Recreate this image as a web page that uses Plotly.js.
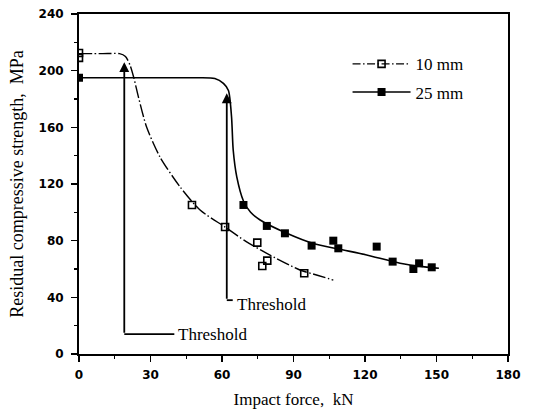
<!DOCTYPE html>
<html>
<head>
<meta charset="utf-8">
<script src="https://cdn.plot.ly/plotly-3.0.1.min.js"></script>
<style>html,body{margin:0;padding:0;background:#fff}#chart{width:535px;height:412px}</style>
</head>
<body>
<div id="chart"></div>
<script>
// Measured points: 10 mm specimens (open squares)
const force10 = [0, 0, 47.4, 61.3, 74.8, 76.9, 79.0, 94.5];
const strength10 = [212.5, 209, 105.2, 89.6, 78.6, 62.1, 65.9, 57];
// Measured points: 25 mm specimens (filled squares)
const force25 = [0, 69, 78.8, 86.4, 97.6, 106.7, 108.8, 124.9, 131.6, 140.3, 142.7, 148];
const strength25 = [195, 105.2, 90.4, 85.2, 76.5, 80, 74.6, 75.8, 65.2, 60, 64, 61.2];
// Fitted curves
const curveForce10 = [0, 10, 17, 19.5, 21.4, 23, 25, 28.4, 34, 42.4, 50.8, 61.3, 70, 78.8, 92.7, 100, 106.7];
const curveStrength10 = [212, 212, 212, 210, 204, 195, 181, 160, 139, 118, 101.6, 89.6, 79.5, 71, 59.3, 55.6, 52.2];
const curveForce25 = [0, 30, 50, 57, 60.6, 62.7, 64, 64.7, 66.2, 69, 72, 76, 87.2, 98.3, 109.5, 120.7, 134.7, 145, 151];
const curveStrength25 = [195, 195, 195, 194.5, 191, 186, 167.5, 144, 125, 108, 100, 94.6, 85.2, 78, 73.9, 69.9, 64, 61.5, 60.5];
// Threshold arrows
const thresholdLabels = ["Threshold", "Threshold"];
const thresholdForce = [19, 62];
const thresholdTop = [206, 184];
const thresholdBase = [14, 38];
const seriesNames = ["10 mm", "25 mm"];
const xTicks = [0, 30, 60, 90, 120, 150, 180];
const yTicks = [0, 40, 80, 120, 160, 200, 240];

const serif = "Liberation Serif, Times New Roman, serif";
const tickFont = {family: "DejaVu Sans, sans-serif", size: 12, color: "#000", weight: "bold"};
const dash10 = "13px,2.5px,1.5px,2.5px";
const nb = "\u00A0";

const traces = [
  {x: curveForce10, y: curveStrength10, mode: "lines", line: {color: "#000", width: 1.4, dash: dash10, shape: "spline", smoothing: 0.7}, showlegend: false, hoverinfo: "skip"},
  {x: curveForce25, y: curveStrength25, mode: "lines", line: {color: "#000", width: 1.6, shape: "spline", smoothing: 0.7}, showlegend: false, hoverinfo: "skip"},
  {x: force10, y: strength10, mode: "markers", marker: {symbol: "square-open", size: 7, color: "#000", line: {width: 1.6, color: "#000"}}, showlegend: false},
  {x: force25, y: strength25, mode: "markers", marker: {symbol: "square", size: 8, color: "#000"}, showlegend: false},
  {x: [null], y: [null], name: seriesNames[0], legendgroup: "g10", mode: "lines+markers", line: {color: "#000", width: 1.4, dash: "8px,2.5px,1.5px,2.5px"}, marker: {symbol: "square-open", size: 7, color: "#000", line: {width: 1.6}}},
  {x: [null], y: [null], name: seriesNames[1], legendgroup: "g25", mode: "lines+markers", line: {color: "#000", width: 1.6}, marker: {symbol: "square", size: 8, color: "#000"}}
];

const annotations = [];
const shapes = [];
const labelGap = [21, 2.5];
thresholdForce.forEach((f, i) => {
  annotations.push({x: f, y: thresholdTop[i], ax: f, ay: thresholdBase[i], axref: "x", ayref: "y", xref: "x", yref: "y",
    text: "", showarrow: true, arrowhead: 2, arrowsize: 1.1, arrowwidth: 1.8, arrowcolor: "#000", standoff: 0});
  shapes.push({type: "line", xref: "x", yref: "y", x0: f, x1: f + labelGap[i], y0: thresholdBase[i], y1: thresholdBase[i], line: {color: "#000", width: 1.8}});
  annotations.push({x: f + labelGap[i] + 0.8, y: thresholdBase[i], xref: "x", yref: "y", text: thresholdLabels[i], showarrow: false,
    xanchor: "left", yanchor: "middle", yshift: i === 1 ? -4 : 0, font: {family: serif, size: 17, color: "#000"}});
});

const layout = {
  width: 535, height: 412,
  margin: {l: 79, r: 27, t: 14, b: 58},
  paper_bgcolor: "#fff", plot_bgcolor: "#fff",
  showlegend: true,
  legend: {x: 0.626, y: 0.905, xanchor: "left", yanchor: "top", bgcolor: "rgba(0,0,0,0)", font: {family: serif, size: 17, color: "#000"}, itemwidth: 58, tracegroupgap: 3},
  xaxis: {range: [0, 180], tickvals: xTicks, ticktext: xTicks.map(String), ticks: "outside", ticklen: 6, tickwidth: 1.6, tickcolor: "#000",
    minor: {dtick: 15, ticks: "outside", ticklen: 3, tickwidth: 1.4, tickcolor: "#000"},
    showgrid: false, zeroline: false, showline: true, linecolor: "#000", linewidth: 2, mirror: true,
    tickfont: tickFont, ticklabelstandoff: 3,
    title: {text: "Impact force,  kN", font: {family: serif, size: 17, color: "#000"}, standoff: 12}},
  yaxis: {range: [0, 240], tickvals: yTicks, ticktext: yTicks.map(String), ticks: "outside", ticklen: 6, tickwidth: 1.6, tickcolor: "#000",
    minor: {dtick: 20, ticks: "outside", ticklen: 3, tickwidth: 1.4, tickcolor: "#000"},
    showgrid: false, zeroline: false, showline: true, linecolor: "#000", linewidth: 2, mirror: true,
    tickfont: tickFont, ticklabelstandoff: 5,
    title: {text: nb.repeat(6) + "Residual compressive strength,  MPa", font: {family: serif, size: 18, color: "#000"}, standoff: 10}},
  annotations: annotations,
  shapes: shapes
};

Plotly.newPlot("chart", traces, layout, {displayModeBar: false, staticPlot: true});
</script>
</body>
</html>
